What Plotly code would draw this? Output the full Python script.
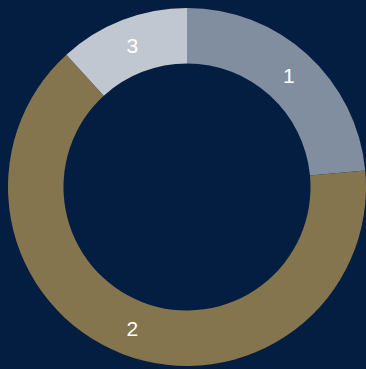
import plotly.graph_objects as go

labels = ["1", "2", "3"]
values = [4, 11, 2]
colors = ["#818EA0", "#84754E", "#C1C7D0"]

fig = go.Figure(go.Pie(
    labels=labels,
    values=values,
    hole=0.69,
    sort=False,
    direction="clockwise",
    rotation=0,
    marker=dict(colors=colors, line=dict(width=0)),
    textinfo="label",
    textposition="inside",
    insidetextorientation="horizontal",
    textfont=dict(color="white", size=21, family="Liberation Sans, Arial, sans-serif"),
    showlegend=False,
    hoverinfo="none",
))
fig.update_layout(
    width=366, height=369,
    margin=dict(l=8, r=0, t=8, b=3),
    paper_bgcolor="#041E42",
    plot_bgcolor="#041E42",
    uniformtext=dict(minsize=21, mode="show"),
)
fig.write_html("out.html")
